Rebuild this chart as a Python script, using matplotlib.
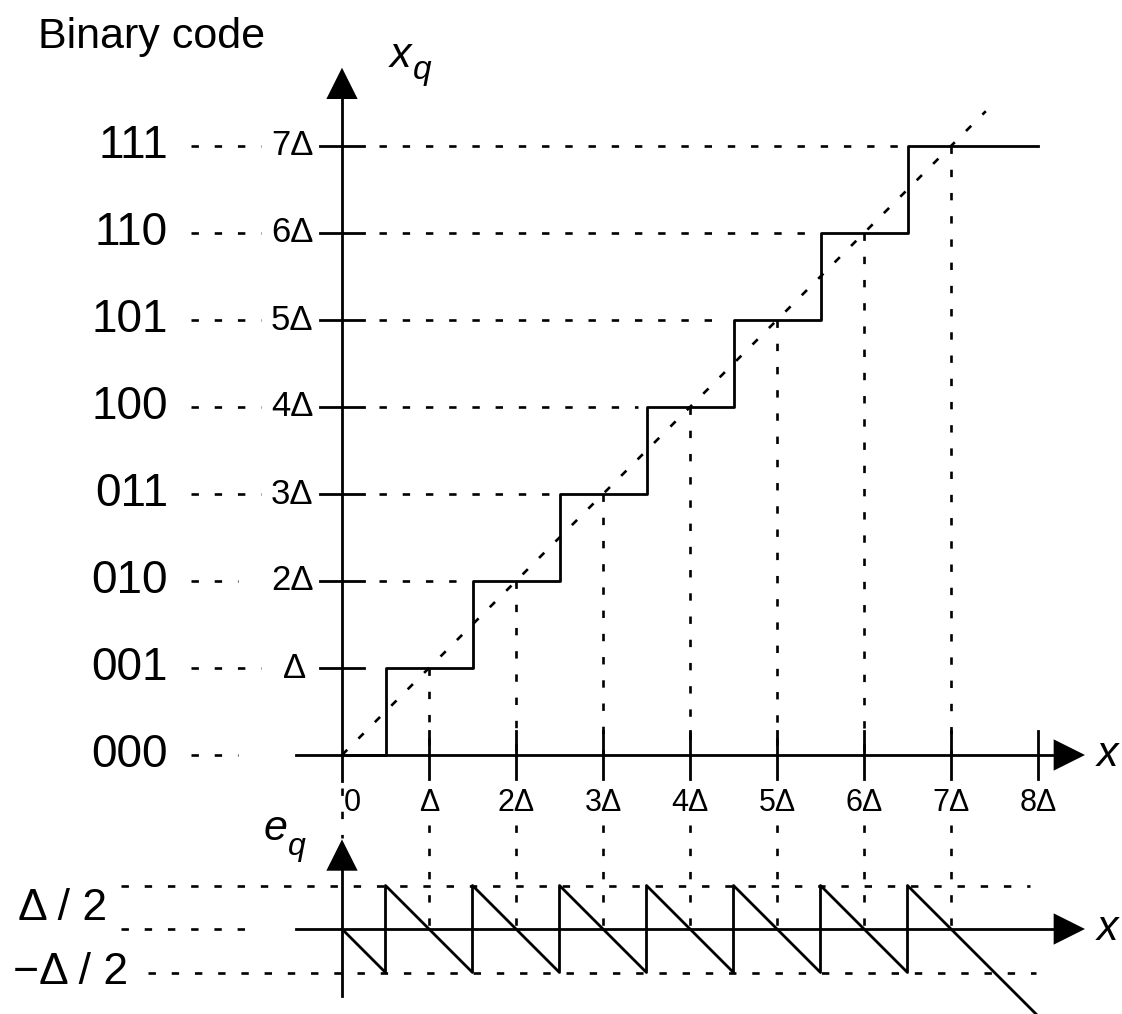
import numpy as np
import matplotlib
matplotlib.use("Agg")
import matplotlib.pyplot as plt

plt.rcParams['font.family'] = ['Liberation Sans', 'DejaVu Sans']

# uniform quantizer, everything in units of delta
levels = [0, 1, 2, 3, 4, 5, 6, 7]
thresholds = [0.5, 1.5, 2.5, 3.5, 4.5, 5.5, 6.5]
x_stop = 8.0
codes = ['000', '001', '010', '011', '100', '101', '110', '111']
ytick_labels = ['', 'Δ', '2Δ', '3Δ', '4Δ', '5Δ', '6Δ', '7Δ']
xtick_labels = ['0', 'Δ', '2Δ', '3Δ', '4Δ', '5Δ', '6Δ', '7Δ', '8Δ']
diag_end = 7.4

E0 = -2.0   # where the error plot sits
LW = 2.0
DOT = dict(color='black', lw=1.9, ls=(0, (2.8, 6.0)))

# staircase x -> x_q
xs = [0.0]
ys = [levels[0]]
for t, lv in zip(thresholds, levels[1:]):
    xs += [t, t]
    ys += [ys[-1], lv]
xs.append(x_stop)
ys.append(levels[-1])
xs = np.array(xs)
ys = np.array(ys)
err = ys - xs

fig = plt.figure(figsize=(11.22, 10.14), dpi=100)
ax = fig.add_axes([0, 0, 1, 1])
ax.set_xlim(-342 / 87, 780 / 87)
ax.set_ylim(-259 / 87, 755 / 87)
ax.set_aspect('equal')
ax.axis('off')


def head(x, y, dx, dy, size=0.36, half=0.18):
    # filled triangle, tip at (x, y), pointing along (dx, dy)
    px, py = -dy, dx
    bx, by = x - dx * size, y - dy * size
    ax.fill([x, bx + px * half, bx - px * half], [y, by + py * half, by - py * half],
            color='black', lw=0)


def subscripted(x, y, main, sub, size, subsize, drop):
    # italic symbol with its subscript, as two texts side by side
    ax.text(x, y, main, style='italic', fontsize=size, ha='right', va='baseline')
    ax.text(x + 0.01, y - drop, sub, style='italic', fontsize=subsize, ha='left', va='baseline')


# ---- upper plot ----
ax.plot([0, 0], [-0.3, 7.6], color='black', lw=LW)
head(0, 7.9, 0, 1)
ax.plot([-0.53, 8.2], [0, 0], color='black', lw=LW)
head(8.54, 0, 1, 0)

for k in range(1, 8):
    ax.plot([-0.25, 0.25], [k, k], color='black', lw=LW)
    ax.text(-0.33 - (0.08 if k == 1 else 0), k, ytick_labels[k],
            ha='right', va='center', fontsize=25)
for k in range(1, 9):
    ax.plot([k, k], [-0.28, 0.28], color='black', lw=LW)
for k, lab in enumerate(xtick_labels):
    ax.text(k + (0.12 if k == 0 else 0), -0.55, lab, ha='center', va='center', fontsize=22)

# binary codes and leader dots
for k, c in enumerate(codes):
    ax.text(-2.0, k, c, ha='right', va='center', fontsize=33)
    end = -1.2 if k in (0, 2) else -0.93
    ax.plot([-1.74, end], [k, k], **DOT)
    if k >= 2:
        ax.plot([0.42, k - 0.6], [k, k], **DOT)

ax.plot(xs, ys, color='black', lw=LW)
ax.plot([0, diag_end], [0, diag_end], **DOT)

# drop lines to the error plot
for k in range(1, 8):
    ax.plot([k, k], [k, 0], **DOT)
    ax.plot([k, k], [-0.8, E0], **DOT)
ax.plot([0, 0], [-0.38, -0.95], **DOT)

subscripted(0.80, 7.908, 'x', 'q', 31, 24, 0.14)
ax.text(8.80, 0, 'x', style='italic', fontsize=31, ha='center', va='center')
ax.text(-3.50, 8.126, 'Binary code', ha='left', va='baseline', fontsize=31)

# ---- error plot ----
ax.plot([0, 0], [E0 - 0.77, E0 + 0.68], color='black', lw=LW)
head(0, E0 + 1.03, 0, 1)
ax.plot([-0.53, 8.2], [E0, E0], color='black', lw=LW)
head(8.54, E0, 1, 0)
ax.text(8.80, E0, 'x', style='italic', fontsize=31, ha='center', va='center')
subscripted(-0.63, E0 + 1.02, 'e', 'q', 31, 23, 0.17)

ax.plot([-2.54, 7.91], [E0 + 0.5, E0 + 0.5], **DOT)
ax.plot([-2.54, -0.95], [E0, E0], **DOT)
ax.plot([-2.23, 7.98], [E0 - 0.5, E0 - 0.5], **DOT)
ax.text(-2.70, E0 + 0.24, 'Δ / 2', ha='right', va='center', fontsize=32)
ax.text(-2.46, E0 - 0.5, '−Δ / 2', ha='right', va='center', fontsize=32)

ax.plot(xs, E0 + err, color='black', lw=LW)

fig.savefig('out.png', dpi=100)
